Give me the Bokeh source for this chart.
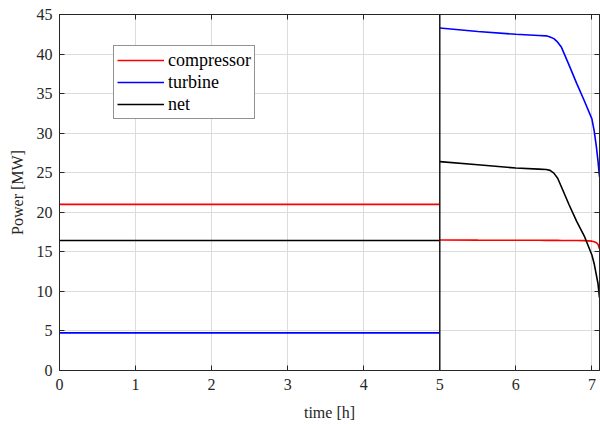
from bokeh.plotting import figure
from bokeh.models import Span, LinearAxis, Legend, LegendItem, FixedTicker
from bokeh.embed import file_html
from bokeh.resources import INLINE

# Phase 1 (0-5 h)
t1 = [0.0, 5.0]
comp1 = [21.0, 21.0]
turb1 = [4.76, 4.76]
net1 = [16.43, 16.43]

# Phase 2 (5 h onwards)
t2 = [5.0, 5.5, 6.0, 6.3, 6.4, 6.45, 6.5, 6.55, 6.6, 6.7, 6.8, 6.9, 7.0, 7.03, 7.06, 7.08, 7.1]
turb2 = [43.3, 42.85, 42.5, 42.35, 42.3, 42.15, 41.95, 41.5, 40.85, 38.6, 36.3, 34.1, 31.8, 30.3, 28.2, 26.5, 24.5]
net2 = [26.4, 26.0, 25.6, 25.45, 25.4, 25.3, 24.95, 24.3, 23.2, 20.95, 18.85, 17.0, 14.6, 13.5, 12.0, 11.0, 9.2]
comp2 = [16.5, 16.48, 16.47, 16.46, 16.45, 16.45, 16.45, 16.45, 16.44, 16.43, 16.43, 16.42, 16.35, 16.28, 16.15, 15.95, 15.4]

x_ticks = [0, 1, 2, 3, 4, 5, 6, 7]
y_ticks = [0, 5, 10, 15, 20, 25, 30, 35, 40, 45]

FONT = "Liberation Serif"
AX = "#262626"

p = figure(width=600, height=424, output_backend="svg", toolbar_location=None,
           x_range=(0, 7.1), y_range=(0, 45),
           min_border_left=59, min_border_right=1, min_border_top=14, min_border_bottom=54)
p.background_fill_color = "white"
p.border_fill_color = "white"
p.outline_line_color = AX
p.outline_line_width = 1

r_c1 = p.line(t1, comp1, line_color="#ff0000", line_width=1.6)
r_t1 = p.line(t1, turb1, line_color="#0000ff", line_width=1.6)
r_n1 = p.line(t1, net1, line_color="#000000", line_width=1.6)
p.line(t2, comp2, line_color="#ff0000", line_width=1.6)
p.line(t2, turb2, line_color="#0000ff", line_width=1.6)
p.line(t2, net2, line_color="#000000", line_width=1.6)

p.add_layout(Span(location=5, dimension="height", line_color="#1a1a1a", line_width=1.5))

for ax in (p.xaxis[0], p.yaxis[0]):
    ax.major_tick_in = 5
    ax.major_tick_out = 0
    ax.minor_tick_in = 0
    ax.minor_tick_out = 0
    ax.axis_line_color = AX
    ax.major_tick_line_color = AX
    ax.major_label_text_font = FONT
    ax.major_label_text_font_size = "16px"
    ax.major_label_text_color = AX
    ax.axis_label_text_font = FONT
    ax.axis_label_text_font_size = "16px"
    ax.axis_label_text_font_style = "normal"
    ax.axis_label_text_color = AX

p.xaxis.ticker = FixedTicker(ticks=x_ticks)
p.yaxis.ticker = FixedTicker(ticks=y_ticks)
p.xaxis.axis_label = "time [h]"
p.yaxis.axis_label = "Power [MW]"
p.xaxis.major_label_standoff = 8
p.xaxis.axis_label_standoff = 11
p.yaxis.major_label_standoff = 7
p.yaxis.axis_label_standoff = 8

# top and right axes (ticks only, no labels)
top = LinearAxis(ticker=FixedTicker(ticks=x_ticks), major_label_text_color=None,
                 major_label_text_font_size="1px",
                 major_tick_in=5, major_tick_out=0, minor_tick_in=0, minor_tick_out=0,
                 major_label_standoff=0, axis_line_color=AX, major_tick_line_color=AX)
right = LinearAxis(ticker=FixedTicker(ticks=y_ticks), major_label_text_color=None,
                   major_label_text_font_size="1px",
                   major_tick_in=5, major_tick_out=0, minor_tick_in=0, minor_tick_out=0,
                   major_label_standoff=0, axis_line_color=AX, major_tick_line_color=AX)
p.add_layout(top, "above")
p.add_layout(right, "right")

p.xgrid.ticker = FixedTicker(ticks=x_ticks)
p.ygrid.ticker = FixedTicker(ticks=y_ticks)
p.grid.grid_line_color = "#dcdcdc"
p.grid.grid_line_width = 1

legend = Legend(items=[LegendItem(label="compressor", renderers=[r_c1]),
                       LegendItem(label="turbine", renderers=[r_t1]),
                       LegendItem(label="net", renderers=[r_n1])],
                location=(54, 251))
legend.label_text_font = FONT
legend.label_text_font_size = "18px"
legend.label_text_color = "#000000"
legend.glyph_width = 47
legend.glyph_height = 22
legend.label_height = 22
legend.label_standoff = 4
legend.padding = 3
legend.spacing = 0
legend.margin = 0
legend.border_line_color = AX
legend.border_line_width = 1
legend.background_fill_color = "white"
legend.background_fill_alpha = 1
p.add_layout(legend, "center")

open("out.html", "w").write(file_html(p, INLINE))
